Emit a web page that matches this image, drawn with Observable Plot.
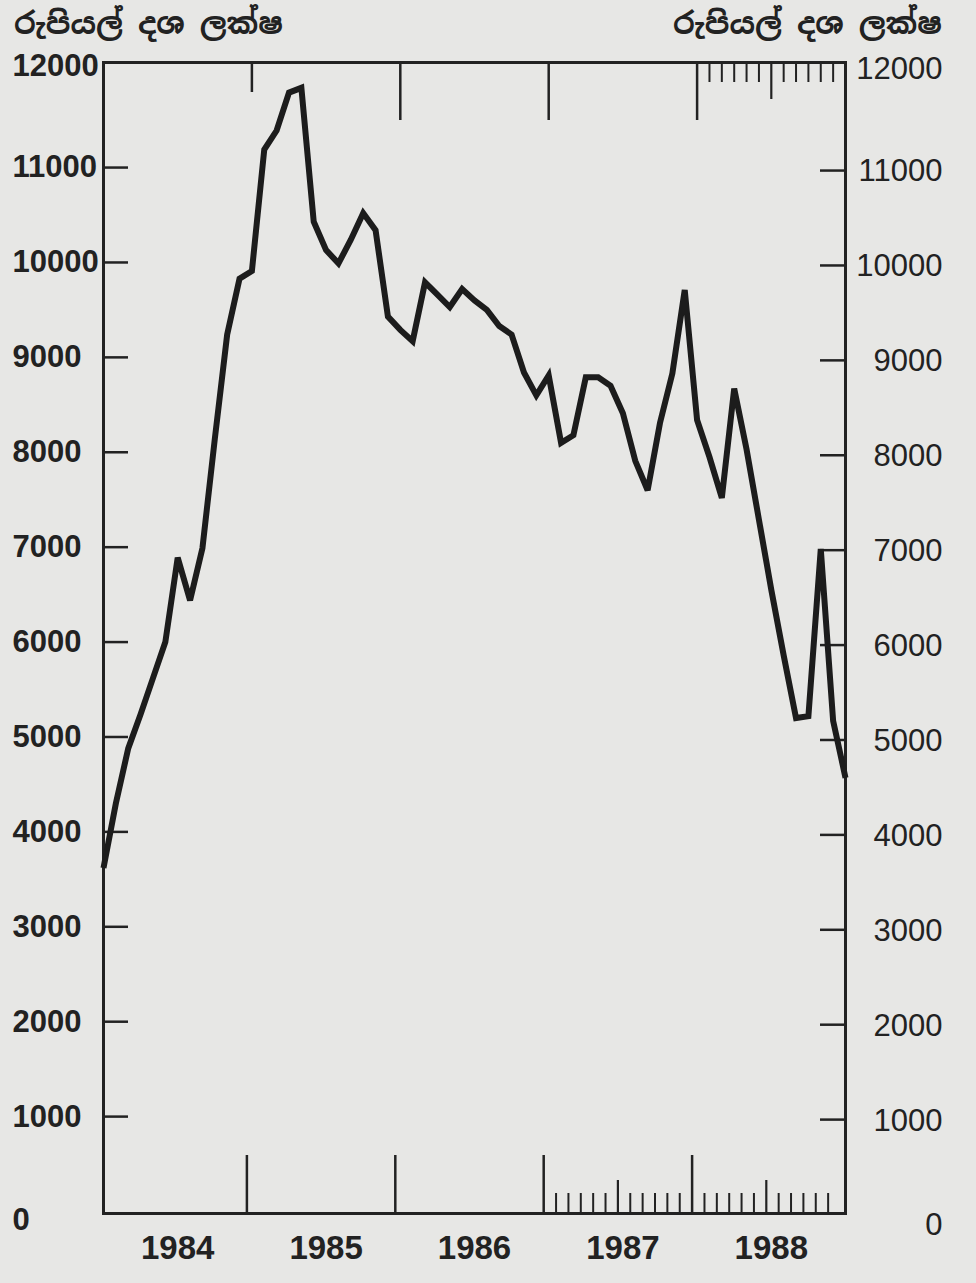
<!DOCTYPE html>
<html><head><meta charset="utf-8">
<script src="https://cdn.jsdelivr.net/npm/d3@7"></script>
<script src="https://cdn.jsdelivr.net/npm/@observablehq/plot@0.6"></script>
<style>
html,body{margin:0;padding:0;background:#e7e7e5;}
body{width:976px;height:1283px;overflow:hidden;color:#222;font-family:"Liberation Sans",Arial,sans-serif;}
#head{position:relative;height:48px;}
#head span{position:absolute;top:4px;font-size:30px;font-weight:bold;white-space:nowrap;font-family:"Noto Sans Sinhala","Iskoola Pota","Noto Sans",sans-serif;color:#222;}
#tl{left:14px;}
#tr{right:34px;}
#chart svg{overflow:visible;display:block;background:transparent;}
</style></head>
<body>
<div id="head"><span id="tl">රුපියල් දශ ලක්ෂ</span><span id="tr">රුපියල් දශ ලක්ෂ</span></div>
<div id="chart"></div>
<script>
// months since January 1984 (0 … 60)
const monthIndex = d3.range(61);
// monthly values, රුපියල් දශ ලක්ෂ
const values = [3620, 4300, 4880, 5240, 5620, 6000, 6890, 6440, 6990, 8140, 9240, 9830,
  9910, 11190, 11390, 11790, 11840, 10430, 10130, 9990, 10240, 10520, 10340, 9430,
  9290, 9170, 9790, 9660, 9530, 9720, 9600, 9500, 9330, 9240, 8840, 8600,
  8810, 8100, 8180, 8790, 8790, 8700, 8410, 7910, 7600, 8310, 8830, 9710,
  8340, 7950, 7520, 8670, 8030, 7290, 6550, 5860, 5200, 5220, 6980, 5170, 4570];
const yearLabels = ["1984", "1985", "1986", "1987", "1988"];
const yearCenters = [6, 18, 30, 42, 54];
const yearBoundaries = [12, 24, 36, 48];
const midYearBottom = [42, 54];
const midYearTop = [54];
const yTicks = d3.range(0, 12001, 1000);

const data = monthIndex.map((m, i) => ({m, v: values[i]}));
const bottomMinor = d3.range(37, 60).filter(m => !yearBoundaries.includes(m) && !midYearBottom.includes(m));
const topMinor = d3.range(49, 60).filter(m => !midYearTop.includes(m));
const yearLabelData = yearLabels.map((t, i) => ({t, m: yearCenters[i]}));

const W = 976, H = 1235;
const mL = 103, mR = 131, mT = 14, mB = 70;
const pW = W - mL - mR, pH = H - mT - mB;
const ink = "#222";
const numFont = "'Liberation Sans', Arial, sans-serif";
const innerTicks = yTicks.slice(1, -1);
const topTick = yTicks.slice(-1);
const zeroTick = yTicks.slice(0, 1);

const leftLab = {text: d => String(d), frameAnchor: "left", textAnchor: "start", dx: -91,
  fontSize: 31, fontWeight: "bold", fontFamily: numFont, fill: ink};
const rightLab = {text: d => String(d), frameAnchor: "right", textAnchor: "end", dx: 97,
  fontSize: 31, fontWeight: "normal", fontFamily: numFont, fill: ink};

const chart = Plot.plot({
  width: W, height: H,
  marginLeft: mL, marginRight: mR, marginTop: mT, marginBottom: mB,
  style: {background: "transparent", overflow: "visible"},
  x: {domain: [0, 60], axis: null},
  y: {domain: [-21, 12107], axis: null},
  marks: [
    // inward y ticks, left and right
    Plot.tickY(innerTicks, {y: d => d, insetRight: pW - 25, stroke: ink, strokeWidth: 2.5}),
    Plot.tickY(innerTicks, {y: d => d, insetLeft: pW - 25, dy: 3, stroke: ink, strokeWidth: 2.5}),
    // bottom ticks
    Plot.tickX(yearBoundaries, {x: d => d, insetTop: pH - 58, dx: -5, stroke: ink, strokeWidth: 2.5}),
    Plot.tickX(midYearBottom, {x: d => d, insetTop: pH - 33, dx: -5, stroke: ink, strokeWidth: 2.2}),
    Plot.tickX(bottomMinor, {x: d => d, insetTop: pH - 20, dx: -5, stroke: ink, strokeWidth: 2}),
    // top ticks
    Plot.tickX(yearBoundaries.slice(0, 1), {x: d => d, insetBottom: pH - 30, stroke: ink, strokeWidth: 2.5}),
    Plot.tickX(yearBoundaries.slice(1), {x: d => d, insetBottom: pH - 58, stroke: ink, strokeWidth: 2.5}),
    Plot.tickX(midYearTop, {x: d => d, insetBottom: pH - 37, stroke: ink, strokeWidth: 2.2}),
    Plot.tickX(topMinor, {x: d => d, insetBottom: pH - 20, stroke: ink, strokeWidth: 2}),
    Plot.frame({stroke: ink, strokeWidth: 3}),
    Plot.line(data, {x: "m", y: "v", stroke: "#1c1c1c", strokeWidth: 6, strokeLinejoin: "miter", strokeMiterlimit: 3, strokeLinecap: "butt"}),
    // y labels
    Plot.text(innerTicks, {y: d => d, ...leftLab}),
    Plot.text(topTick, {y: d => d, ...leftLab, dy: -7}),
    Plot.text(zeroTick, {y: d => d, ...leftLab, dy: 9}),
    Plot.text(innerTicks, {y: d => d, ...rightLab, dy: 4}),
    Plot.text(topTick, {y: d => d, ...rightLab, dy: -4}),
    Plot.text(zeroTick, {y: d => d, ...rightLab, dy: 14}),
    // year labels
    Plot.text(yearLabelData, {x: "m", text: "t", frameAnchor: "bottom", dy: 35, lineAnchor: "middle",
      fontSize: 33, fontWeight: "bold", fontFamily: numFont, fill: ink})
  ]
});
document.getElementById("chart").appendChild(chart);
</script>
</body></html>
